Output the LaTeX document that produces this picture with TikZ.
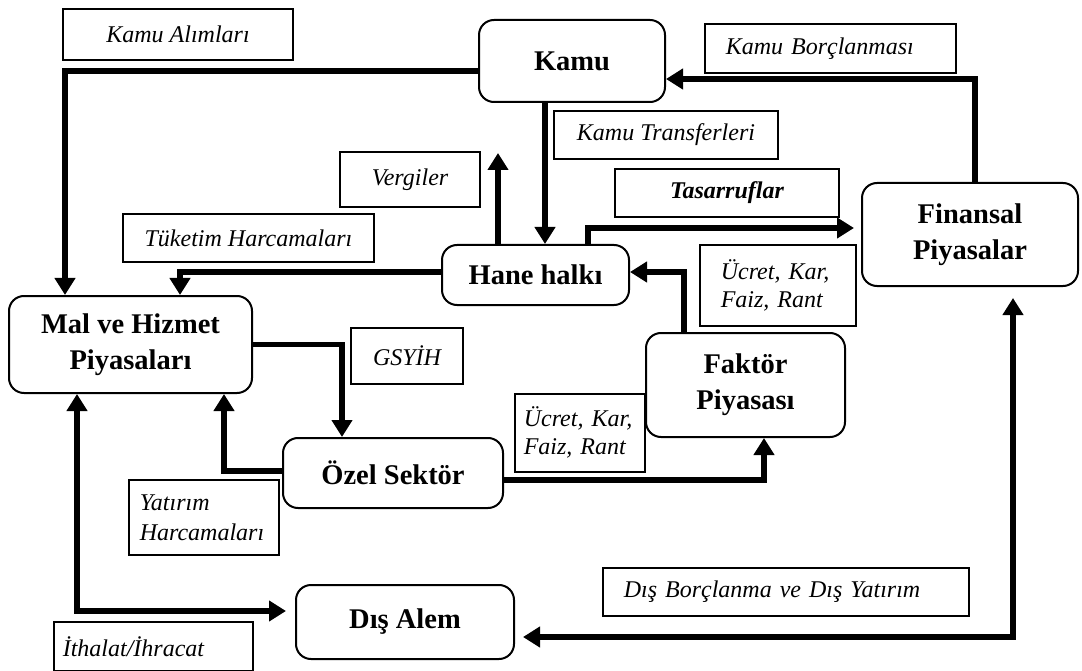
\documentclass[tikz,border=0pt]{standalone}
\usepackage{fontspec}
\setmainfont{Liberation Serif}
\usetikzlibrary{arrows.meta}
\begin{document}
\begin{tikzpicture}[x=1pt,y=-1pt,
  unit/.style={draw, line width=2pt, rounded corners=15pt, inner sep=0pt, align=center,
    font=\fontsize{28.5}{36}\selectfont\bfseries},
  lbl/.style={draw, line width=1.6pt, inner sep=0pt, align=center,
    font=\fontsize{24}{28}\selectfont\itshape},
  lbll/.style={lbl, anchor=north west, align=left},
  flow/.style={line width=5.5pt, -{Triangle[length=17pt,width=20pt]}},
  flowboth/.style={line width=5.5pt, {Triangle[length=17pt,width=20pt]}-{Triangle[length=17pt,width=20pt]}}]

\fill[white] (0,0) rectangle (1082,671);
\useasboundingbox (0,0) rectangle (1082,671);

% main units
\node[unit, minimum width=186pt, minimum height=82pt] (kamu) at (572,61) {Kamu};
\node[unit, minimum width=187pt, minimum height=60pt] (hane) at (535.5,275) {Hane halkı};
\node[unit, minimum width=243pt, minimum height=97pt] (mal) at (130.5,344.5) {Mal ve Hizmet\\Piyasaları};
\node[unit, minimum width=220pt, minimum height=70pt] (ozel) at (393,473) {Özel Sektör};
\node[unit, minimum width=218pt, minimum height=74pt] (dis) at (405,622) {Dış Alem};
\node[unit, minimum width=199pt, minimum height=104pt] (faktor) at (745.5,385) {Faktör\\Piyasası};
\node[unit, minimum width=216pt, minimum height=103pt] (finansal) at (970,234.5) {Finansal\\Piyasalar};

% labels
\node[lbl, minimum width=230pt, minimum height=51pt] (kamualim) at (178,34.5) {Kamu Alımları};
\node[lbll, minimum width=251pt, minimum height=49pt, text width=209pt, inner xsep=21pt] (kamuborc) at (704,23) {Kamu Borçlanması};
\node[lbl, minimum width=224pt, minimum height=48pt] (kamutrans) at (666,135) {Kamu Transferleri};
\node[lbl, minimum width=140pt, minimum height=55pt] (vergiler) at (410,179.5) {Vergiler};
\node[lbl, minimum width=251pt, minimum height=48pt] (tuketim) at (248.5,238) {Tüketim Harcamaları};
\node[lbl, minimum width=224pt, minimum height=48pt, font=\fontsize{24}{28}\selectfont\bfseries\itshape] (tasarruf) at (727,193) {Tasarruflar};
\node[lbll, minimum width=156pt, minimum height=81pt, text width=114pt, inner xsep=21pt] (ucret1) at (699,244) {Ücret, Kar,\\Faiz, Rant};
\node[lbl, minimum width=112pt, minimum height=56pt] (gsyih) at (407,356) {GSYİH};
\node[lbll, minimum width=130pt, minimum height=78pt, text width=112pt, inner xsep=9pt] (ucret2) at (514,393) {Ücret, Kar,\\Faiz, Rant};
\node[lbll, minimum width=150pt, minimum height=75pt, text width=128pt, inner xsep=11pt, font=\fontsize{24}{30}\selectfont\itshape] (yatirim) at (128,479) {Yatırım\\Harcamaları};
\node[lbll, minimum width=199pt, minimum height=49pt, text width=181pt, inner xsep=9pt] (ithalat) at (53,621) {İthalat/İhracat};
\node[lbll, minimum width=366pt, minimum height=48pt, text width=324pt, inner xsep=21pt] (disborc) at (602,567) {Dış Borçlanma ve Dış Yatırım};

% free end of the tax arrow
\coordinate (vtip) at (498,153);

% connectors
\draw[flow] ([yshift=-10pt]kamu.west) -| ([xshift=-65.5pt]mal.north);
\draw[flow] ([yshift=3pt]hane.west) -| ([xshift=49.5pt]mal.north);
\draw[flow] ([xshift=-27pt]kamu.south) -- ([xshift=9.5pt]hane.north);
\draw[flow] ([xshift=-37.5pt]hane.north) -- (vtip);
\draw[flow, shorten >=7pt] ([xshift=52.5pt]hane.north) |- ([yshift=6.5pt]finansal.west);
\draw[flow] ([xshift=5pt]finansal.north) |- ([yshift=-18pt]kamu.east);
\draw[flow] ([xshift=-61.5pt]faktor.north) |- ([yshift=3pt]hane.east);
\draw[flow] (mal.east) -| ([xshift=-51pt]ozel.north);
\draw[flow] ([yshift=2pt]ozel.west) -| ([xshift=93.5pt]mal.south);
\draw[flow] ([yshift=-7pt]ozel.east) -| ([xshift=18.5pt]faktor.south);
\draw[flowboth, shorten >=9pt] ([xshift=-53.5pt]mal.south) |- ([yshift=11pt]dis.west);
\draw[flowboth, shorten <=11pt, shorten >=8pt] ([xshift=43pt]finansal.south) |- ([yshift=-15pt]dis.east);
\end{tikzpicture}
\end{document}
